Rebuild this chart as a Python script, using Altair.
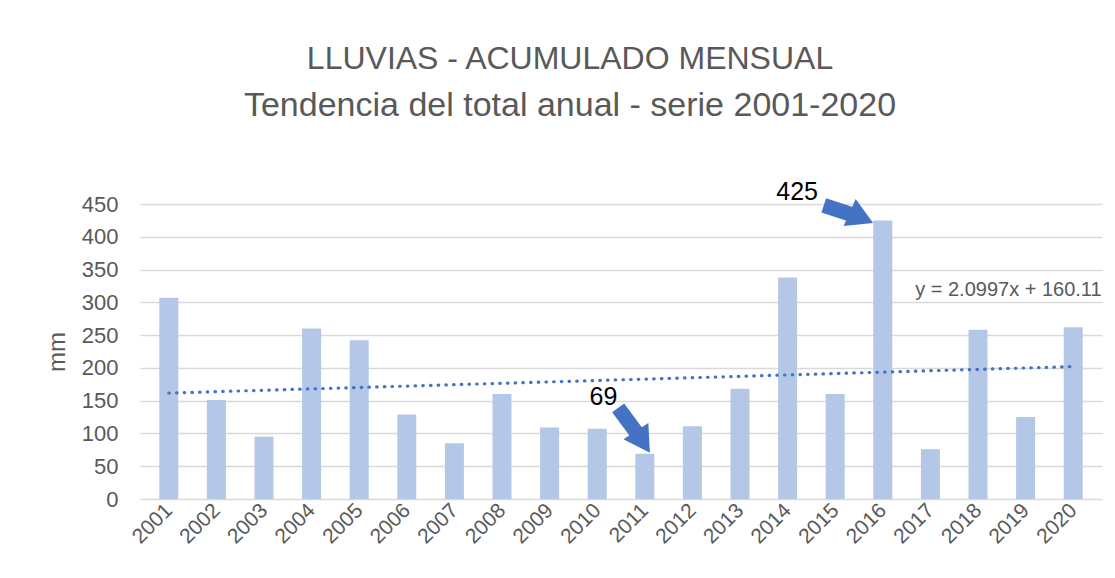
import altair as alt
import pandas as pd

# ---- data ----
years = [2001, 2002, 2003, 2004, 2005, 2006, 2007, 2008, 2009, 2010,
         2011, 2012, 2013, 2014, 2015, 2016, 2017, 2018, 2019, 2020]
rain_mm = [307, 151, 95, 260, 242, 129, 85, 160, 109, 107,
           69, 111, 168, 338, 160, 425, 76, 258, 125, 262]
y_ticks = [0, 50, 100, 150, 200, 250, 300, 350, 400, 450]

# annotations (data coordinates: idx = position of year, value in mm)
note_text = ["69", "425"]
note_idx = [10.13, 14.2]
note_val = [156, 469]

arrow_id = ["a69", "a425"]
arrow_tail_idx = [10.44, 14.76]
arrow_tail_val = [139, 448]
arrow_shaft_idx = [10.90, 15.43]
arrow_shaft_val = [94, 432]
arrow_head_idx = [10.96, 15.55]
arrow_head_val = [87, 429]
arrow_head_angle = [147, 114]

equation = "y = 2.0997x + 160.11"
eq_idx = [16.68]
eq_val = [319]

FONT = "Liberation Sans"
GREY = "#595959"
BLUE = "#4472C4"
BAR = "#B4C7E7"

df = pd.DataFrame({"idx": list(range(1, len(years) + 1)), "year": years, "mm": rain_mm})

label_array = "[" + ",".join("'%d'" % y for y in years) + "]"

xscale = alt.Scale(domain=[0.5, len(years) + 0.5], nice=False, zero=False)
yscale = alt.Scale(domain=[0, 450], nice=False)

x_axis = alt.Axis(
    values=list(range(1, len(years) + 1)),
    labelExpr=label_array + "[datum.value - 1]",
    labelAngle=-45, labelAlign="right", labelBaseline="middle",
    labelFontSize=21, labelColor=GREY, labelFont=FONT, labelPadding=8,
    labelOverlap=False,
    domain=False, ticks=False, grid=False, title=None,
)
y_axis = alt.Axis(
    values=y_ticks, grid=True, gridColor="#D9D9D9", gridWidth=1.5,
    domain=False, ticks=False, labelFontSize=22, labelColor=GREY, labelFont=FONT,
    labelPadding=22, labelOverlap=False, title="mm", titleFontSize=24, titleColor=GREY,
    titleFont=FONT, titleFontWeight="normal", titlePadding=12,
)


def X(field):
    return alt.X(field, scale=xscale, axis=x_axis)


def Y(field):
    return alt.Y(field, scale=yscale, axis=y_axis)


bars = alt.Chart(df).mark_bar(size=19, color=BAR).encode(x=X("idx:Q"), y=Y("mm:Q"))

trend = alt.Chart(df).transform_regression("idx", "mm", method="linear").mark_line(
    color=BLUE, strokeWidth=3.2, strokeDash=[0.5, 7.2], strokeCap="round"
).encode(x=X("idx:Q"), y=Y("mm:Q"))

arrows_df = pd.DataFrame({
    "id": arrow_id,
    "tx": arrow_tail_idx, "ty": arrow_tail_val,
    "sx": arrow_shaft_idx, "sy": arrow_shaft_val,
    "hx": arrow_head_idx, "hy": arrow_head_val,
    "ang": arrow_head_angle,
})

shafts = alt.Chart(arrows_df).mark_rule(color=BLUE, strokeWidth=15, clip=False).encode(
    x=X("tx:Q"), y=Y("ty:Q"), x2="sx:Q", y2="sy:Q",
)
heads = alt.Chart(arrows_df).mark_point(
    shape="triangle-up", filled=True, size=880, opacity=1, color=BLUE, clip=False
).encode(
    x=X("hx:Q"), y=Y("hy:Q"), angle=alt.Angle("ang:Q", scale=None),
)

notes_df = pd.DataFrame({"t": note_text, "x": note_idx, "y": note_val})
notes = alt.Chart(notes_df).mark_text(
    font=FONT, fontSize=25, color="#000000", align="center", baseline="middle"
).encode(x=X("x:Q"), y=Y("y:Q"), text="t:N")

eq_df = pd.DataFrame({"t": [equation], "x": eq_idx, "y": eq_val})
eq = alt.Chart(eq_df).mark_text(
    font=FONT, fontSize=20, color=GREY, align="left", baseline="middle"
).encode(x=X("x:Q"), y=Y("y:Q"), text="t:N")

chart = alt.layer(bars, trend, shafts, heads, notes, eq).properties(
    width=962, height=295,
    background="white",
    autosize=alt.AutoSizeParams(type="none"),
    padding={"left": 132, "top": 196, "right": 5, "bottom": 60},
    title=alt.TitleParams(
        text="LLUVIAS - ACUMULADO MENSUAL",
        subtitle="Tendencia del total anual - serie 2001-2020",
        font=FONT, fontSize=32, fontWeight="normal", color=GREY,
        subtitleFont=FONT, subtitleFontSize=34, subtitleColor=GREY,
        subtitlePadding=13, anchor="middle", frame="group", dx=-51, offset=56,
    ),
).configure_view(stroke=None)

chart.save("out.html", embed_options={"renderer": "svg", "actions": False})
